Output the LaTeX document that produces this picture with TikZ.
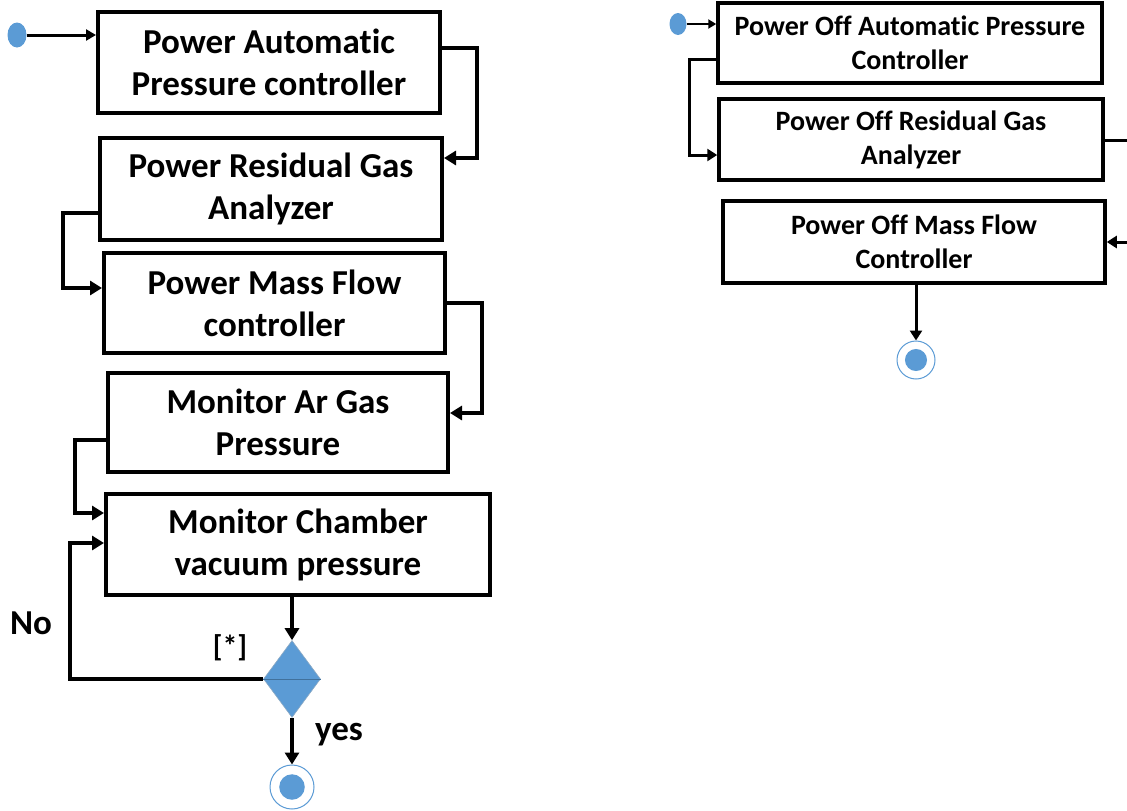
\documentclass[tikz,border=0pt]{standalone}
\usepackage{fontspec}
\setmainfont{Carlito}[RawFeature={-liga;-dlig}]
\usetikzlibrary{arrows.meta,shapes.geometric}
\definecolor{umlblue}{HTML}{5B9BD5}
\definecolor{umledge}{HTML}{41719C}
\begin{document}
\begin{tikzpicture}[x=1pt,y=-1pt,
 box/.style={draw,line width=4pt,align=center,inner sep=0pt,font=\bfseries\fontsize{35}{42}\selectfont},
 offbox/.style={draw,line width=3.5pt,align=center,inner sep=0pt,font=\bfseries\fontsize{28}{34}\selectfont},
 arr/.style={line width=4pt,-{Triangle[length=12pt,width=14pt]}},
 offarr/.style={line width=3pt,-{Triangle[length=10pt,width=12pt]}},
 startdot/.style={ellipse,fill=umlblue,inner sep=0pt},
 enddot/.style={circle,draw=umlblue,fill=white,line width=1pt,inner sep=0pt,minimum size=#1,
   path picture={\fill[umlblue] (path picture bounding box.center) circle ({0.29*#1});}},
 lbl/.style={font=\bfseries\fontsize{35}{42}\selectfont}]
 \useasboundingbox (0,0) rectangle (1127,811);
 \clip (0,0) rectangle (1127,811);
 \node[startdot,minimum width=19pt,minimum height=25pt] (s1) at (17,35) {};
 \node[box,minimum width=342pt,minimum height=101pt] (b1) at (269,62.5) {Power Automat\kern0pt ic\\Pressure controller};
 \node[box,minimum width=342pt,minimum height=102pt] (b2) at (271,189) {Power Residual Gas\\Analyzer};
 \node[box,minimum width=341pt,minimum height=100pt] (b3) at (274.5,303) {Power Mass Flow\\controller};
 \node[box,minimum width=340pt,minimum height=99pt] (b4) at (278,422.5) {Monitor Ar Gas\\Pressure};
 \node[box,minimum width=384pt,minimum height=101pt] (b5) at (298,544.5) {Monitor Chamber\\vacuum pressure};
 \node[diamond,fill=umlblue,draw=umledge!60,line width=0.6pt,minimum width=57pt,minimum height=77pt,inner sep=0pt] (dec) at (292,679) {};
 \draw[umledge,line width=1pt] (dec.west) -- (dec.east);
 \node[enddot=44pt] (e1) at (292,787) {};
 \node[lbl] (no) at (31,623) {No};
 \node[lbl,font=\bfseries\fontsize{30}{36}\selectfont] (star) at (230,648) {[*]};
 \node[lbl] (yes) at (339,735) {yes};
 \draw[line width=3pt,-{Triangle[length=10pt,width=11pt]}] (s1.east) -- (s1.east -| b1.west);
 \draw[arr] ([yshift=14.5pt]b1.east) -- ++(35,0) |- ([yshift=31pt]b2.east);
 \draw[arr] ([yshift=-24pt]b2.west) -- ++(-35,0) |- ([yshift=15pt]b3.west);
 \draw[arr] (b3.east) -- ++(35,0) |- ([yshift=9.5pt]b4.east);
 \draw[arr] ([yshift=-17.5pt]b4.west) -- ++(-31,0) |- ([yshift=31.5pt]b5.west);
 \draw[arr] (dec.north |- b5.south) -- (dec.north);
 \draw[arr] (dec.west) -- ++(-193,0) |- ([yshift=1.5pt]b5.west);
 \draw[arr] (dec.south) -- (e1.north);
 \node[startdot,minimum width=17pt,minimum height=22pt] (s2) at (678,24) {};
 \node[offbox,minimum width=384pt,minimum height=80pt] (r1) at (910,43) {Power Off Automat\kern0pt ic Pressure\\Controller};
 \node[offbox,minimum width=384pt,minimum height=81pt] (r2) at (911,139.5) {Power Off Residual Gas\\Analyzer};
 \node[offbox,minimum width=382pt,minimum height=82pt] (r3) at (914,242) {Power Off Mass Flow\\Controller};
 \node[enddot=38pt] (e2) at (916,360) {};
 \draw[line width=2.5pt,-{Triangle[length=8pt,width=9pt]}] (s2.east) -- (s2.east -| r1.west);
 \draw[offarr] ([yshift=-16pt]r1.west) -- ++(-27,0) |- ([yshift=-15.5pt]r2.west);
 \draw[offarr] ([yshift=-0.5pt]r2.east) -- ++(40,0) |- (r3.east);
 \draw[offarr] (e2.north |- r3.south) -- (e2.north);
\end{tikzpicture}
\end{document}
